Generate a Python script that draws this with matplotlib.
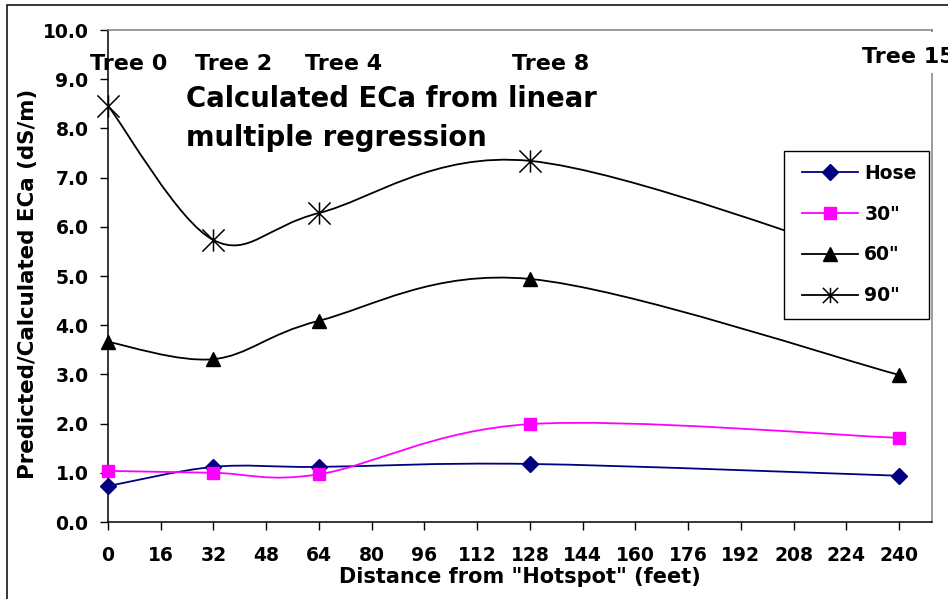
import numpy as np
import matplotlib
matplotlib.use("Agg")
import matplotlib.pyplot as plt
from matplotlib.path import Path
from matplotlib.patches import PathPatch, Rectangle
from matplotlib.lines import Line2D

# Distance of each sampled tree from the hotspot (feet)
distance_ft = [0, 32, 64, 128, 240]
tree_labels = ["Tree 0", "Tree 2", "Tree 4", "Tree 8", "Tree 15"]

# Calculated ECa (dS/m) per depth
hose = [0.73, 1.12, 1.12, 1.18, 0.94]
depth_30 = [1.04, 1.00, 0.97, 1.99, 1.71]
depth_60 = [3.66, 3.31, 4.09, 4.94, 2.99]
depth_90 = [8.46, 5.73, 6.28, 7.34, 5.15]
series_names = ["Hose", '30"', '60"', '90"']

x_ticks = list(range(0, 241, 16))
y_ticks = [float(v) for v in range(0, 11)]

W, H = 948, 599
fig = plt.figure(figsize=(W / 100, H / 100), dpi=100)
plt.rcParams["font.family"] = ["DejaVu Sans"]


def fx(px):
    return px / W


def fy(py):
    return 1 - py / H


ax = fig.add_axes([fx(108), fy(522), fx(932) - fx(108), fy(30) - fy(522)])
ax.set_xlim(0, 250)
ax.set_ylim(0, 10)

# plot-area frame: black axes, grey outline
for side in ("left", "bottom"):
    ax.spines[side].set_color("black")
    ax.spines[side].set_linewidth(1.1)
for side in ("top", "right"):
    ax.spines[side].set_color("#808080")
    ax.spines[side].set_linewidth(1.1)

ax.set_xticks(x_ticks)
ax.set_xticklabels([str(v) for v in x_ticks])
ax.set_yticks(y_ticks)
ax.set_yticklabels([f"{v:.1f}" for v in y_ticks])
ax.tick_params(axis="both", direction="out", length=6, width=1, color="black",
               labelsize=13.5)
ax.tick_params(axis="x", pad=11)
ax.tick_params(axis="y", pad=8)
for lab in ax.get_xticklabels() + ax.get_yticklabels():
    lab.set_fontweight("bold")


def smooth_path(xs, ys):
    """Smoothed (Catmull-Rom style) Bezier path through the data points."""
    pts = np.column_stack([xs, ys]).astype(float)
    n = len(pts)
    verts = [pts[0]]
    codes = [Path.MOVETO]
    for i in range(n - 1):
        p0 = pts[max(i - 1, 0)]
        p1 = pts[i]
        p2 = pts[i + 1]
        p3 = pts[min(i + 2, n - 1)]
        c1 = p1 + (p2 - p0) / 6.0
        c2 = p2 - (p3 - p1) / 6.0
        verts += [c1, c2, p2]
        codes += [Path.CURVE4] * 3
    return Path(verts, codes)


star = Path([(0, -1), (0, 1), (-1, -1), (1, 1), (-1, 1), (1, -1)],
            [Path.MOVETO, Path.LINETO, Path.MOVETO, Path.LINETO,
             Path.MOVETO, Path.LINETO])

styles = [
    dict(color="#000080", marker="D", ms=8.5, mfc="#000080", mec="#000080", mew=1),
    dict(color="#FF00FF", marker="s", ms=9, mfc="#FF00FF", mec="#FF00FF", mew=1),
    dict(color="black", marker="^", ms=10.5, mfc="black", mec="black", mew=1),
    dict(color="black", marker=star, ms=16, mfc="none", mec="black", mew=1.1),
]
all_series = [hose, depth_30, depth_60, depth_90]

handles = []
for name, vals, st in zip(series_names, all_series, styles):
    ax.add_patch(PathPatch(smooth_path(distance_ft, vals), fill=False,
                           edgecolor=st["color"], linewidth=1.3, zorder=2))
    ax.plot(distance_ft, vals, linestyle="none", marker=st["marker"],
            markersize=st["ms"], markerfacecolor=st["mfc"],
            markeredgecolor=st["mec"], markeredgewidth=st["mew"], zorder=3,
            clip_on=False)
    leg_ms = st["ms"] if st["marker"] is not star else 11
    handles.append(Line2D([], [], color=st["color"], linewidth=1.3,
                          marker=st["marker"], markersize=leg_ms,
                          markerfacecolor=st["mfc"], markeredgecolor=st["mec"],
                          markeredgewidth=st["mew"], label=name))

# legend box with its entries laid out inside
fig.patches.append(Rectangle((fx(784), fy(319)), fx(929) - fx(784),
                             fy(151) - fy(319), transform=fig.transFigure,
                             facecolor="white", edgecolor="black",
                             linewidth=1.0, zorder=1))
leg = fig.legend(handles=handles, loc="upper left",
                 bbox_to_anchor=(fx(802), fy(164)), bbox_transform=fig.transFigure,
                 borderaxespad=0, frameon=False, handlelength=3.0,
                 handletextpad=0.32, labelspacing=1.16, borderpad=0,
                 prop=dict(size=13.5, weight="bold"))
leg.set_zorder(5)

# axis titles
fig.text(fx(520), fy(577), 'Distance from "Hotspot" (feet)', ha="center",
         va="center", fontsize=15, fontweight="bold")
fig.text(fx(28), fy(284), "Predicted/Calculated ECa (dS/m)", ha="center",
         va="center", rotation=90, fontsize=15.4, fontweight="bold")

# chart title
fig.text(fx(186), fy(107), "Calculated ECa from linear", ha="left",
         va="baseline", fontsize=19.8, fontweight="bold")
fig.text(fx(186), fy(146), "multiple regression", ha="left",
         va="baseline", fontsize=19.8, fontweight="bold")

# tree labels above the sample positions
tree_left_px = [90, 195, 305, 512, 862]
tree_base_px = [70, 70, 70, 70, 63]
fig.patches.append(Rectangle((fx(850), fy(73)), fx(948) - fx(850),
                             fy(32) - fy(73), transform=fig.transFigure,
                             facecolor="white", edgecolor="none", zorder=1))
for lab, lx, by in zip(tree_labels, tree_left_px, tree_base_px):
    fig.text(fx(lx), fy(by), lab, ha="left", va="baseline", fontsize=16,
             fontweight="bold", zorder=3)

# outer chart border
fig.patches.append(Rectangle((fx(7), -0.1), 1.2, fy(5) + 0.1,
                             transform=fig.transFigure, facecolor="none",
                             edgecolor="black", linewidth=1.1, zorder=4))

fig.savefig("out.png", dpi=100, facecolor="white")
